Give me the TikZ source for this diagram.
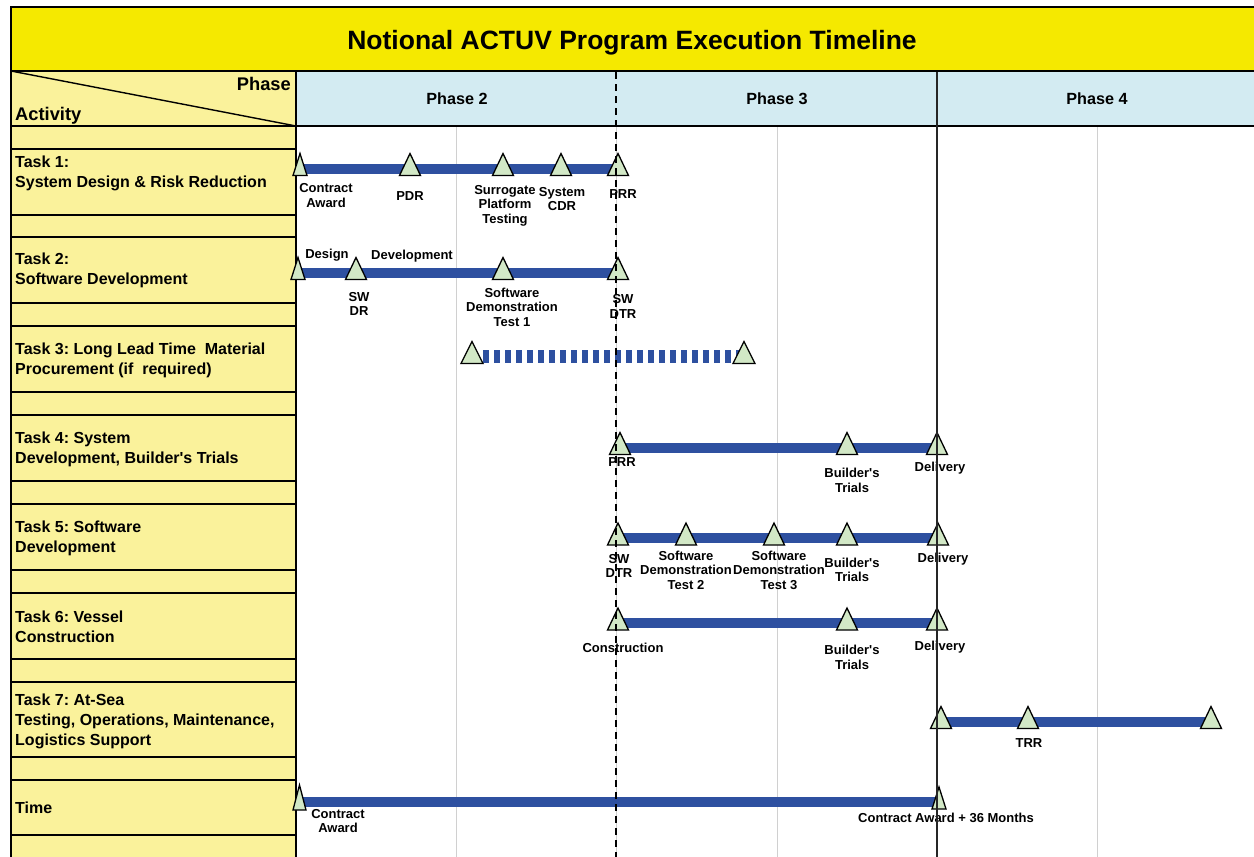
\documentclass[tikz,border=0pt]{standalone}
\usepackage{fontspec}
\setmainfont{Liberation Sans}[Ligatures=TeXOff]
\definecolor{titleyellow}{RGB}{245,233,0}
\definecolor{paleyellow}{RGB}{250,242,155}
\definecolor{phaseblue}{RGB}{211,235,242}
\definecolor{barblue}{RGB}{46,80,160}
\definecolor{msgreen}{RGB}{210,232,198}
\definecolor{gridgray}{RGB}{208,208,208}
\newcommand\tri[2][10.5]{\filldraw[msk] (#2) ++(0,-15) -- ++(#1,22) -- ++(-2*#1,0) -- cycle;}
\frenchspacing
\begin{document}
\frenchspacing
\begin{tikzpicture}[x=1pt,y=-1pt,
  lbl/.style={font=\fontsize{13}{14.5}\selectfont\bfseries, align=center, inner sep=0pt},
  task/.style={font=\fontsize{16}{20}\selectfont\bfseries, align=left, anchor=west, inner sep=0pt},
  hdr/.style={font=\fontsize{18.3}{20}\selectfont\bfseries, inner sep=0pt},
  phase/.style={font=\fontsize{16.2}{18}\selectfont\bfseries, inner sep=0pt, anchor=base},
  bar/.style={line width=10pt, draw=barblue},
  dbar/.style={line width=12.5pt, draw=barblue, dash pattern=on 6pt off 5pt},
  msk/.style={fill=msgreen, draw=black, line width=1.3pt, line join=miter},
  gridl/.style={draw=gridgray, line width=1pt},
  rowline/.style={draw=black, line width=1.2pt},
  border/.style={draw=black, line width=2.2pt}]
\useasboundingbox (0,0) rectangle (1254,857);
% backgrounds
\fill[white] (0,0) rectangle (1254,857);
\fill[titleyellow] (11,7) rectangle (1254,71);
\fill[paleyellow] (11,71) rectangle (296,857);
\fill[phaseblue] (296,71) rectangle (1254,126);
% grid
\foreach \x in {456,616,777,937,1097} \draw[gridl] (\x,126) -- (\x,857);
% left column row lines
\foreach \y in {149,215,237,303,326,392,415,481,504,570,593,659,682,757,780,835}
  \draw[rowline] (11,\y) -- (296,\y);
% borders
\draw[border] (10,7) -- (1254,7);
\draw[border] (11,71) -- (1254,71);
\draw[border] (11,126) -- (1254,126);
\draw[border] (11,6) -- (11,857);
\draw[line width=2pt] (296,71) -- (296,857);
\draw[line width=1.4pt] (11,71) -- (296,126);
% title and headers
\node[font=\fontsize{26.5}{30}\selectfont\bfseries, inner sep=0pt, anchor=base] (title) at (632,49.3) {Notional ACTUV Program Execution Timeline};
\node[hdr, anchor=base east] (phasehdr) at (291,90.7) {Phase};
\node[hdr, anchor=base west] (acthdr) at (15,120.7) {Activity};
\node[phase] (ph2) at (457,104.3) {Phase 2};
\node[phase] (ph3) at (777,104.3) {Phase 3};
\node[phase] (ph4) at (1097,104.3) {Phase 4};
% task labels
\node[task] (k1) at (15,173) {Task 1:\\System Design \& Risk Reduction};
\node[task] (k2) at (15,270) {Task 2:\\Software Development};
\node[task] (k3) at (15,360) {Task 3: Long Lead Time\ \ Material\\Procurement (if\ \ required)};
\node[task] (k4) at (15,449.5) {Task 4: System\\Development, Builder's Trials};
\node[task] (k5) at (15,538) {Task 5: Software\\Development};
\node[task] (k6) at (15,627) {Task 6: Vessel\\Construction};
\node[task] (k7) at (15,721) {Task 7: At-Sea\\Testing, Operations, Maintenance,\\Logistics Support};
\node[task] (k8) at (15,808) {Time};
% milestone coordinates
\coordinate (a1) at (300,168.5); \coordinate (a2) at (410,168.5); \coordinate (a3) at (503,168.5);
\coordinate (a4) at (561,168.5); \coordinate (a5) at (618,168.5);
\coordinate (b1) at (298,272.5); \coordinate (b2) at (356,272.5); \coordinate (b3) at (503,272.5);
\coordinate (b4) at (618,272.5);
\coordinate (c1) at (472,356.5); \coordinate (c2) at (744,356.5);
\coordinate (d1) at (620,447.5); \coordinate (d2) at (847,447.5); \coordinate (d3) at (937,447.5);
\coordinate (e1) at (618,538); \coordinate (e2) at (686,538); \coordinate (e3) at (774,538);
\coordinate (e4) at (847,538); \coordinate (e5) at (938,538);
\coordinate (f1) at (618,623); \coordinate (f2) at (847,623); \coordinate (f3) at (937,623);
\coordinate (g1) at (941,721.5); \coordinate (g2) at (1028,721.5); \coordinate (g3) at (1211,721.5);
\coordinate (h1) at (299.5,801.5); \coordinate (h2) at (939,801.5);
% bars
\draw[bar] (a1) -- (a5);
\draw[bar] (b1) -- (b4);
\draw[dbar, shorten <=11pt, shorten >=4pt] (c1) -- (c2);
\draw[bar] (d1) -- (d3);
\draw[bar] (e1) -- (e5);
\draw[bar] (f1) -- (f3);
\draw[bar] (g1) -- (g3);
\draw[bar] (h1) -- (h2);
% milestones
\tri[7]{a1} \tri{a2} \tri{a3} \tri{a4} \tri{a5}
\tri[7]{b1} \tri{b2} \tri{b3} \tri{b4}
\tri[11]{c1} \tri[11]{c2}
\tri{d1} \tri{d2} \tri{d3}
\tri{e1} \tri{e2} \tri{e3} \tri{e4} \tri{e5}
\tri{f1} \tri{f2} \tri{f3}
\tri{g1} \tri{g2} \tri{g3}
\filldraw[msk] (h1) ++(0,-16.5) -- ++(6.5,25) -- ++(-13,0) -- cycle;
\filldraw[msk] (h2) ++(0,-14.5) -- ++(7,22) -- ++(-14,0) -- cycle;
% milestone labels
\node[lbl] (la1) at (326,195.5) {Contract\\Award};
\node[lbl] (la2) at (410,196) {PDR};
\node[lbl] (la3) at (505,205.5) {Surrogate\\Platform\\Testing};
\node[lbl] (la4) at (562,199) {System\\CDR};
\node[lbl] (la5) at (623,194) {PRR};
\node[lbl] (lb0) at (327,255) {Design};
\node[lbl] (lb1) at (412,256) {Development};
\node[lbl] (lb2) at (359,304) {SW\\DR};
\node[lbl] (lb3) at (512,307) {Software\\Demonstration\\Test 1};
\node[lbl] (lb4) at (623,306.5) {SW\\DTR};
\node[lbl] (ld1) at (622,462) {PRR};
\node[lbl] (ld2) at (852,480.5) {Builder's\\Trials};
\node[lbl] (ld3) at (940,468.5) {Delivery};
\node[lbl] (le1) at (619,566) {SW\\DTR};
\node[lbl] (le2) at (686,570) {Software\\Demonstration\\Test 2};
\node[lbl] (le3) at (779,570) {Software\\Demonstration\\Test 3};
\node[lbl] (le4) at (852,570) {Builder's\\Trials};
\node[lbl] (le5) at (943,559.5) {Delivery};
\node[lbl] (lf1) at (623,647.5) {Construction};
\node[lbl] (lf2) at (852,657.5) {Builder's\\Trials};
\node[lbl] (lf3) at (940,647.5) {Delivery};
\node[lbl] (lg2) at (1029,743) {TRR};
\node[lbl] (lh1) at (338,821) {Contract\\Award};
\node[lbl] (lh2) at (946,818) {Contract Award + 36 Months};
% phase dividers on top
\draw[line width=2pt, dash pattern=on 7pt off 5pt] (616,72) -- (616,857);
\draw[line width=1.5pt, draw=black!85] (937,72) -- (937,857);
\end{tikzpicture}
\end{document}
